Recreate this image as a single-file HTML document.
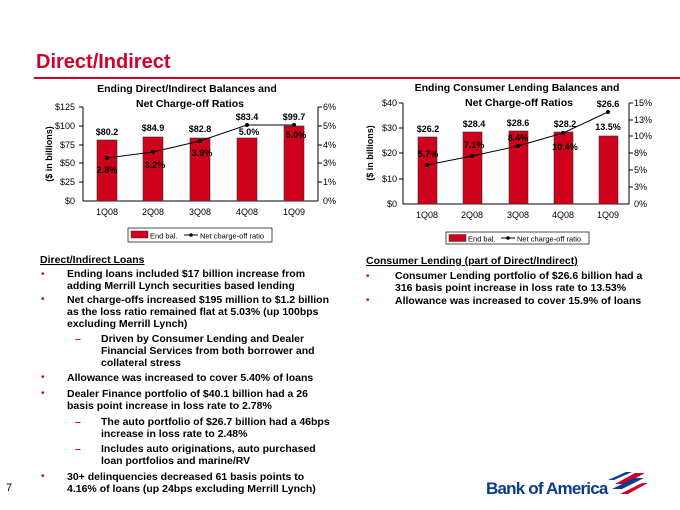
<!DOCTYPE html>
<html><head><meta charset="utf-8"><style>
body{margin:0;background:#fff}
svg{display:block;font-family:"Liberation Sans",Arial,sans-serif}
.b{font-weight:bold}
</style></head><body>
<svg width="680" height="510" viewBox="0 0 680 510" xmlns="http://www.w3.org/2000/svg">
<text x="36" y="68" font-size="20" font-weight="bold" fill="#d0002a">Direct/Indirect</text>
<rect x="34" y="77" width="646" height="2" fill="#d0002a"/>

<!-- LEFT CHART -->
<g font-size="11">
<text x="187" y="92" text-anchor="middle" class="b" font-size="10.5">Ending Direct/Indirect Balances and</text>
<text x="190" y="107" text-anchor="middle" class="b" font-size="10.5">Net Charge-off  Ratios</text>
<g stroke="#000" stroke-width="1">
<line x1="83" y1="107" x2="83" y2="201"/><line x1="318" y1="107" x2="318" y2="201"/>
<line x1="83" y1="201" x2="318" y2="201"/>
</g>
<g fill="#d0021b" stroke="#333" stroke-width="0.6">
<rect x="97" y="140" width="20" height="61"/>
<rect x="143" y="137" width="20" height="64"/>
<rect x="190" y="138" width="20" height="63"/>
<rect x="237" y="138" width="20" height="63"/>
<rect x="284" y="126" width="20" height="75"/>
</g>
<g font-size="9" fill="#000" text-anchor="end">
<text x="75" y="110">$125</text><text x="75" y="129">$100</text><text x="75" y="148">$75</text><text x="75" y="166">$50</text><text x="75" y="185">$25</text><text x="75" y="204">$0</text>
</g>
<g font-size="9" fill="#000">
<text x="323" y="110">6%</text><text x="323" y="129">5%</text><text x="323" y="148">4%</text><text x="323" y="166">3%</text><text x="323" y="185">1%</text><text x="323" y="204">0%</text>
</g>
<g stroke="#000"><line x1="79" y1="107" x2="83" y2="107"/><line x1="79" y1="126" x2="83" y2="126"/><line x1="79" y1="145" x2="83" y2="145"/><line x1="79" y1="163" x2="83" y2="163"/><line x1="79" y1="182" x2="83" y2="182"/>
<line x1="318" y1="107" x2="322" y2="107"/><line x1="318" y1="126" x2="322" y2="126"/><line x1="318" y1="145" x2="322" y2="145"/><line x1="318" y1="163" x2="322" y2="163"/><line x1="318" y1="182" x2="322" y2="182"/></g>
<text transform="translate(52,154) rotate(-90)" text-anchor="middle" font-size="9" class="b">($ in billions)</text>
<g font-size="9" text-anchor="middle"><text x="107" y="215">1Q08</text><text x="153" y="215">2Q08</text><text x="200" y="215">3Q08</text><text x="247" y="215">4Q08</text><text x="294" y="215">1Q09</text></g>
<polyline points="107,158 153,152 200,141 247,125 294,125" fill="none" stroke="#000" stroke-width="1"/>
<g fill="#000"><circle cx="107" cy="158" r="2"/><circle cx="153" cy="152" r="2"/><circle cx="200" cy="141" r="2"/><circle cx="247" cy="125" r="2"/><circle cx="294" cy="125" r="2"/></g>
<g font-size="9" class="b" text-anchor="middle">
<text x="107" y="135">$80.2</text><text x="153" y="131">$84.9</text><text x="200" y="132">$82.8</text><text x="247" y="120">$83.4</text><text x="294" y="120">$99.7</text>
<text x="107" y="173">2.8%</text><text x="155" y="168">3.2%</text><text x="202" y="156">3.9%</text><text x="249" y="135">5.0%</text><text x="296" y="138">5.0%</text>
</g>
<rect x="128" y="228" width="144" height="14" fill="#fff" stroke="#000" stroke-width="0.7"/>
<rect x="131" y="231" width="17" height="7" fill="#d0021b" stroke="#333" stroke-width="0.5"/>
<text x="150" y="238.5" font-size="7.5">End bal.</text>
<line x1="184" y1="235" x2="198" y2="235" stroke="#000"/><circle cx="191" cy="235" r="1.8"/>
<text x="200" y="238.5" font-size="7.5">Net charge-off ratio</text>
</g>

<!-- RIGHT CHART -->
<g font-size="11">
<text x="517" y="91" text-anchor="middle" class="b" font-size="10.5">Ending Consumer Lending Balances and</text>
<text x="519" y="106" text-anchor="middle" class="b" font-size="10.5">Net Charge-off  Ratios</text>
<g stroke="#000" stroke-width="1">
<line x1="403" y1="103" x2="403" y2="204"/><line x1="629" y1="103" x2="629" y2="204"/>
<line x1="403" y1="204" x2="629" y2="204"/>
</g>
<g fill="#d0021b" stroke="#333" stroke-width="0.6">
<rect x="418" y="137" width="19" height="67"/>
<rect x="463" y="132" width="19" height="72"/>
<rect x="509" y="131" width="19" height="73"/>
<rect x="554" y="132" width="19" height="72"/>
<rect x="599" y="136" width="19" height="68"/>
</g>
<g font-size="9" text-anchor="end">
<text x="397" y="106">$40</text><text x="397" y="131">$30</text><text x="397" y="156">$20</text><text x="397" y="182">$10</text><text x="397" y="207">$0</text>
</g>
<g font-size="9">
<text x="634" y="106">15%</text><text x="634" y="123">13%</text><text x="634" y="139">10%</text><text x="634" y="156">8%</text><text x="634" y="173">5%</text><text x="634" y="190">3%</text><text x="634" y="207">0%</text>
</g>
<g stroke="#000"><line x1="399" y1="103" x2="403" y2="103"/><line x1="399" y1="128" x2="403" y2="128"/><line x1="399" y1="153" x2="403" y2="153"/><line x1="399" y1="179" x2="403" y2="179"/>
<line x1="629" y1="103" x2="633" y2="103"/><line x1="629" y1="120" x2="633" y2="120"/><line x1="629" y1="136" x2="633" y2="136"/><line x1="629" y1="153" x2="633" y2="153"/><line x1="629" y1="170" x2="633" y2="170"/><line x1="629" y1="187" x2="633" y2="187"/></g>
<text transform="translate(373,153) rotate(-90)" text-anchor="middle" font-size="9" class="b">($ in billions)</text>
<g font-size="9" text-anchor="middle"><text x="427" y="218">1Q08</text><text x="472" y="218">2Q08</text><text x="518" y="218">3Q08</text><text x="563" y="218">4Q08</text><text x="608" y="218">1Q09</text></g>
<polyline points="427,165 472,156 518,146 563,133 608,112" fill="none" stroke="#000" stroke-width="1"/>
<g><circle cx="427" cy="165" r="2"/><circle cx="472" cy="156" r="2"/><circle cx="518" cy="146" r="2"/><circle cx="563" cy="133" r="2"/><circle cx="608" cy="112" r="2"/></g>
<g font-size="9" class="b" text-anchor="middle">
<text x="428" y="132">$26.2</text><text x="474" y="127">$28.4</text><text x="518" y="126">$28.6</text><text x="565" y="127">$28.2</text><text x="608" y="107">$26.6</text>
<text x="428" y="157">5.7%</text><text x="474" y="148">7.1%</text><text x="518" y="141">8.4%</text><text x="565" y="150">10.4%</text><text x="608" y="130">13.5%</text>
</g>
<rect x="446" y="232" width="143" height="12" fill="#fff" stroke="#000" stroke-width="0.7"/>
<rect x="449" y="234.5" width="17" height="7" fill="#d0021b" stroke="#333" stroke-width="0.5"/>
<text x="468" y="241.5" font-size="7.5">End bal.</text>
<line x1="501" y1="238" x2="515" y2="238" stroke="#000"/><circle cx="508" cy="238" r="1.8"/>
<text x="517" y="241.5" font-size="7.5">Net charge-off ratio</text>
</g>

<!-- TEXT -->
<g font-size="10.5" font-weight="bold" fill="#000">
<text x="40" y="263" text-decoration="underline">Direct/Indirect Loans</text>
<g fill="#d0002a" font-weight="normal" font-size="10"><text x="41" y="277">•</text><text x="41" y="302">•</text><text x="41" y="380">•</text><text x="41" y="396">•</text><text x="41" y="479">•</text><text x="366" y="279">•</text><text x="366" y="303">•</text></g>
<g fill="#d0002a"><text x="75" y="342">–</text><text x="75" y="425">–</text><text x="75" y="452">–</text></g>
<text x="67" y="277">Ending loans included $17 billion increase from</text>
<text x="67" y="289">adding Merrill Lynch securities based lending</text>
<text x="67" y="303">Net charge-offs increased $195 million to $1.2 billion</text>
<text x="67" y="315">as the loss ratio remained flat at 5.03% (up 100bps</text>
<text x="67" y="327">excluding Merrill Lynch)</text>
<text x="101" y="342">Driven by Consumer Lending and Dealer</text>
<text x="101" y="354">Financial Services from both borrower and</text>
<text x="101" y="366">collateral stress</text>
<text x="67" y="381">Allowance was increased to cover 5.40% of loans</text>
<text x="67" y="397">Dealer Finance portfolio of $40.1 billion had a 26</text>
<text x="67" y="409">basis point increase in loss rate to 2.78%</text>
<text x="101" y="425">The auto portfolio of $26.7 billion had a 46bps</text>
<text x="101" y="437">increase in loss rate to 2.48%</text>
<text x="101" y="452">Includes auto originations, auto purchased</text>
<text x="101" y="464">loan portfolios and marine/RV</text>
<text x="67" y="480">30+ delinquencies decreased 61 basis points to</text>
<text x="67" y="492">4.16% of loans (up 24bps excluding Merrill Lynch)</text>

<text x="366" y="264" text-decoration="underline">Consumer Lending (part of Direct/Indirect)</text>
<text x="395" y="279">Consumer Lending portfolio of $26.6 billion had a</text>
<text x="395" y="291">316 basis point increase in loss rate to 13.53%</text>
<text x="395" y="304">Allowance was increased to cover 15.9% of loans</text>
</g>
<text x="6" y="491" font-size="11">7</text>

<!-- LOGO -->
<text x="486" y="494" font-size="17" font-weight="bold" fill="#0a3b8f" letter-spacing="-0.8">Bank of America</text>
<g>
<path d="M615 484 L635 473 L645 473 L625 484 Z" fill="#d0002a"/>
<path d="M612 489 L634 478 L644 478 L622 489 Z" fill="#0a3b8f"/>
<path d="M620 494 L642 483 L648 483 L628 494 Z" fill="#d0002a"/>
<path d="M608 480 L626 472 L632 472 L614 480 Z" fill="#0a3b8f"/>
</g>
</svg>
</body></html>
